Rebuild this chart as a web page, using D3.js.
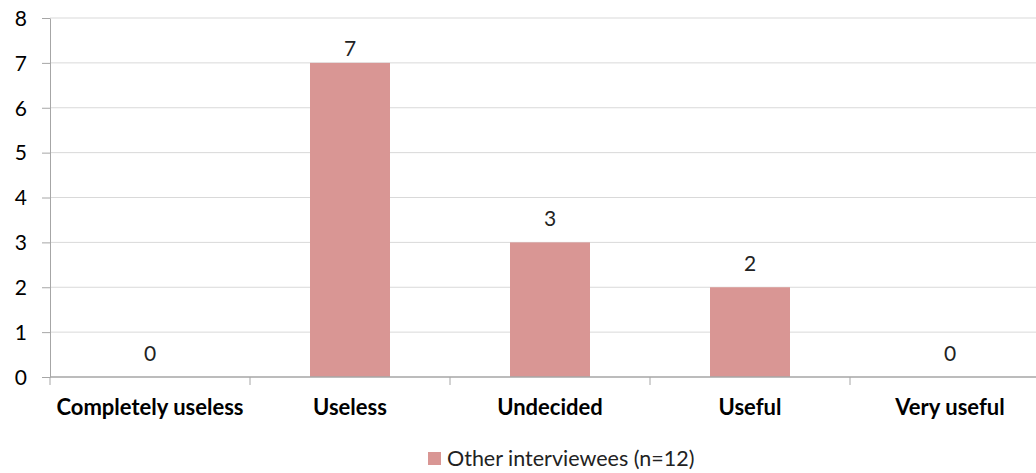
<!DOCTYPE html>
<html>
<head>
<meta charset="utf-8">
<script src="https://cdn.jsdelivr.net/npm/d3@7"></script>
<style>
  html, body { margin: 0; padding: 0; background: #fff; }
  svg { display: block; }
  text { font-family: Lato, "Open Sans", sans-serif; fill: #000; }
</style>
</head>
<body>
<svg id="chart" width="1036" height="473"></svg>
<script>
// Ratings of usefulness
const categories = ["Completely useless", "Useless", "Undecided", "Useful", "Very useful"];
const counts = [0, 7, 3, 2, 0];
const yTicks = [0, 1, 2, 3, 4, 5, 6, 7, 8];
const seriesName = "Other interviewees (n=12)";

const width = 1036, height = 473;
const margin = { left: 50, top: 18, bottom: 96 };
const plotRight = 1050;
const barColor = "#D99694";

const svg = d3.select("#chart");

const x = d3.scaleBand()
  .domain(categories)
  .range([margin.left, plotRight])
  .paddingInner(0.6)
  .paddingOuter(0.3);

const xOuter = d3.scaleBand().domain(categories).range([margin.left, plotRight]);

const y = d3.scaleLinear()
  .domain([0, 8])
  .range([height - margin.bottom, margin.top]);

// horizontal gridlines
svg.append("g")
  .selectAll("line")
  .data(yTicks.filter(d => d > 0))
  .join("line")
  .attr("x1", margin.left).attr("x2", plotRight)
  .attr("y1", d => y(d)).attr("y2", d => y(d))
  .attr("stroke", "#D9D9D9").attr("stroke-width", 1);

const rows = categories.map((c, i) => ({ c, v: counts[i] }));

// bars
svg.append("g")
  .selectAll("rect")
  .data(rows)
  .join("rect")
  .attr("x", d => x(d.c))
  .attr("width", x.bandwidth())
  .attr("y", d => y(d.v))
  .attr("height", d => y(0) - y(d.v))
  .attr("fill", barColor);

// value labels above each bar, kept inside the plot area
svg.append("g")
  .selectAll("text")
  .data(rows)
  .join("text")
  .attr("x", d => x(d.c) + x.bandwidth() / 2)
  .attr("y", d => Math.max(y(d.v) - 16, margin.top + 38))
  .attr("text-anchor", "middle")
  .style("font-size", "21px")
  .style("fill", "#222")
  .text(d => d.v);

// y axis
const yAxis = d3.axisLeft(y).tickValues(yTicks).tickSize(8).tickPadding(15).tickSizeOuter(0);
const gy = svg.append("g").attr("transform", `translate(${margin.left},0)`).call(yAxis);
gy.select(".domain").attr("stroke", "#A6A6A6");
gy.selectAll(".tick line").attr("stroke", "#A6A6A6");
gy.selectAll(".tick text").style("font-size", "21px").attr("fill", "#000").attr("dy", "0.35em");

// x axis: ticks at category boundaries
const gx = svg.append("g").attr("transform", `translate(0,${y(0)})`);
gx.append("line")
  .attr("x1", margin.left).attr("x2", plotRight)
  .attr("stroke", "#A6A6A6").attr("stroke-width", 1.5);
const boundaries = categories.map(c => xOuter(c)).concat([plotRight]);
gx.selectAll("line.tick")
  .data(boundaries)
  .join("line")
  .attr("class", "tick")
  .attr("x1", d => d).attr("x2", d => d)
  .attr("y1", 0).attr("y2", 8)
  .attr("stroke", "#A6A6A6");
gx.selectAll("text")
  .data(categories)
  .join("text")
  .attr("x", d => xOuter(d) + xOuter.bandwidth() / 2)
  .attr("y", 38)
  .attr("text-anchor", "middle")
  .style("font-size", "22px")
  .style("font-weight", "bold")
  .text(d => d);

// legend
const legend = svg.append("g").attr("transform", "translate(428,452)");
legend.append("rect").attr("width", 13).attr("height", 13).attr("fill", barColor);
legend.append("text").attr("x", 19).attr("y", 14).style("font-size", "21.5px").style("fill", "#222").text(seriesName);
</script>
</body>
</html>
